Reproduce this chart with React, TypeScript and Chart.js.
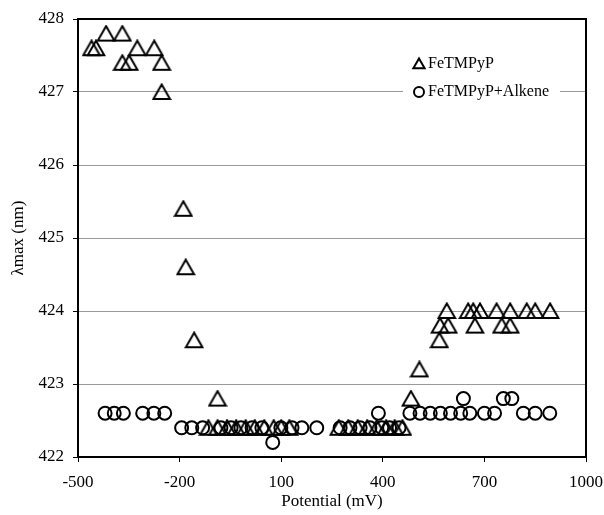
import React, { useEffect, useRef } from 'react';
import { Chart, registerables } from 'chart.js';

Chart.register(...registerables);

// FeTMPyP (triangles)
const feX = [-460, -447, -417, -369, -369, -349, -325, -275, -253, -253, -189, -182, -157, -88,
  -115, -88, -60, -33, -5, 22, 50, 78, 100, 124, 270, 298, 326, 354, 382, 410, 435, 458,
  483, 508, 567, 569, 593, 589, 652, 667, 672, 687, 736, 751, 776, 776, 825, 850, 894];
const feY = [427.6, 427.6, 427.8, 427.8, 427.4, 427.4, 427.6, 427.6, 427.4, 427.0, 425.4, 424.6, 423.6, 422.8,
  422.4, 422.4, 422.4, 422.4, 422.4, 422.4, 422.4, 422.4, 422.4, 422.4, 422.4, 422.4, 422.4, 422.4, 422.4, 422.4, 422.4, 422.4,
  422.8, 423.2, 423.6, 423.8, 423.8, 424.0, 424.0, 424.0, 423.8, 424.0, 424.0, 423.8, 423.8, 424.0, 424.0, 424.0, 424.0];

// FeTMPyP+Alkene (circles)
const alkX = [-420, -393, -366, -309, -276, -244,
  -194, -164, -132, -78, -48, -19, 14, 43, 99, 132, 161, 205, 274, 303, 333, 362, 397, 420, 448,
  75,
  387, 480, 510, 540, 570, 600, 630, 657, 700, 730, 815, 850, 893,
  638, 756, 781];
const alkY = [422.6, 422.6, 422.6, 422.6, 422.6, 422.6,
  422.4, 422.4, 422.4, 422.4, 422.4, 422.4, 422.4, 422.4, 422.4, 422.4, 422.4, 422.4, 422.4, 422.4, 422.4, 422.4, 422.4, 422.4, 422.4,
  422.2,
  422.6, 422.6, 422.6, 422.6, 422.6, 422.6, 422.6, 422.6, 422.6, 422.6, 422.6, 422.6, 422.6,
  422.8, 422.8, 422.8];

const xTicks = [-500, -200, 100, 400, 700, 1000];
const yTicks = [422, 423, 424, 425, 426, 427, 428];
const seriesNames = ['FeTMPyP', 'FeTMPyP+Alkene'];
const xTitle = 'Potential (mV)';
const yTitle = 'λmax (nm)';

const FONT = 'Liberation Serif, Times New Roman, serif';

function makeTriangle(): HTMLCanvasElement {
  const c = document.createElement('canvas');
  c.width = 20;
  c.height = 18;
  const g = c.getContext('2d')!;
  g.strokeStyle = '#000';
  g.lineWidth = 2;
  g.lineJoin = 'miter';
  g.beginPath();
  g.moveTo(10, 1.5);
  g.lineTo(18.3, 16);
  g.lineTo(1.7, 16);
  g.closePath();
  g.stroke();
  return c;
}

const framePlugin = {
  id: 'frame',
  afterDatasetsDraw(chart: any) {
    const { ctx, chartArea } = chart;
    const { left, top, right, bottom } = chartArea;
    ctx.save();
    // legend box
    ctx.fillStyle = '#ffffff';
    ctx.fillRect(403, 52, 157, 56);
    ctx.strokeStyle = '#000';
    ctx.lineWidth = 2;
    const tx = 419, ty = 65, r = 6.5;
    ctx.beginPath();
    ctx.moveTo(tx, ty - r);
    ctx.lineTo(tx + r * 0.866, ty + r * 0.5);
    ctx.lineTo(tx - r * 0.866, ty + r * 0.5);
    ctx.closePath();
    ctx.stroke();
    ctx.beginPath();
    ctx.arc(419, 92, 5, 0, Math.PI * 2);
    ctx.stroke();
    ctx.fillStyle = '#000';
    ctx.font = '16px ' + FONT;
    ctx.textBaseline = 'middle';
    ctx.textAlign = 'left';
    ctx.fillText(seriesNames[0], 428, 64);
    ctx.fillText(seriesNames[1], 428, 92);
    // frame
    ctx.lineWidth = 2;
    ctx.strokeStyle = '#000';
    ctx.strokeRect(left, top, right - left, bottom - top);
    ctx.restore();
  },
};

export default function App() {
  const ref = useRef<HTMLCanvasElement>(null);
  useEffect(() => {
    if (!ref.current) return;
    const tri = makeTriangle();
    const chart = new Chart(ref.current, {
      type: 'scatter',
      data: {
        datasets: [
          {
            label: seriesNames[0],
            data: feX.map((x, i) => ({ x, y: feY[i] })),
            pointStyle: tri,
            pointRadius: 9,
            pointHoverRadius: 9,
            borderColor: '#000',
            backgroundColor: 'rgba(0,0,0,0)',
            borderWidth: 2,
          },
          {
            label: seriesNames[1],
            data: alkX.map((x, i) => ({ x, y: alkY[i] })),
            pointStyle: 'circle',
            pointRadius: 6.5,
            pointHoverRadius: 6.5,
            borderColor: '#000',
            backgroundColor: 'rgba(0,0,0,0)',
            borderWidth: 2,
          },
        ],
      },
      options: {
        responsive: false,
        animation: false,
        layout: { padding: { top: 19, right: 18, left: 0, bottom: 0 } },
        plugins: { legend: { display: false }, tooltip: { enabled: false } },
        scales: {
          x: {
            type: 'linear',
            min: -500,
            max: 1000,
            afterBuildTicks: (s: any) => { s.ticks = xTicks.map((v) => ({ value: v })); },
            afterFit: (s: any) => { s.height = 58; s.paddingLeft = 0; s.paddingRight = 0; },
            ticks: { color: '#000', font: { family: FONT, size: 17 }, padding: 10, callback: (v: any) => String(v) },
            grid: { drawOnChartArea: false, drawTicks: true, tickLength: 5, color: '#000', tickColor: '#000' },
            border: { display: true, color: '#000', width: 2 },
            title: { display: true, text: xTitle, color: '#000', font: { family: FONT, size: 17 }, padding: { top: 0, bottom: 3 } },
          },
          y: {
            type: 'linear',
            min: 422,
            max: 428,
            afterBuildTicks: (s: any) => { s.ticks = yTicks.map((v) => ({ value: v })); },
            afterFit: (s: any) => { s.width = 78; s.paddingTop = 0; s.paddingBottom = 0; },
            ticks: { color: '#000', font: { family: FONT, size: 17 }, padding: 9, callback: (v: any) => String(v) },
            grid: { drawOnChartArea: true, drawTicks: true, tickLength: 5, color: '#999', tickColor: '#000', lineWidth: 1 },
            border: { display: true, color: '#000', width: 2 },
            title: { display: true, text: yTitle, color: '#000', font: { family: FONT, size: 17 }, padding: { top: 8, bottom: 0 } },
          },
        },
      },
      plugins: [framePlugin],
    } as any);
    return () => chart.destroy();
  }, []);
  return (
    <div style={{ position: 'fixed', left: 0, top: 0, width: 604, height: 515, background: '#fff' }}>
      <canvas ref={ref} width={604} height={515} />
    </div>
  );
}
